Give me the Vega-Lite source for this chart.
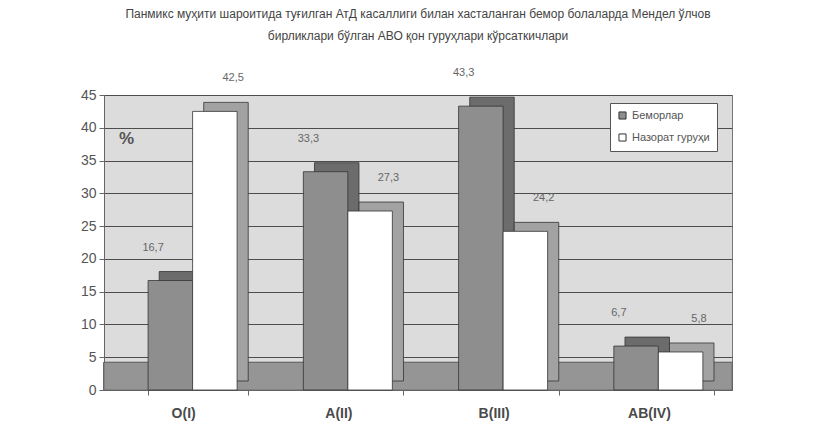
{
  "$schema": "https://vega.github.io/schema/vega-lite/v6.json",
  "width": 628,
  "height": 295,
  "autosize": {"type": "none"},
  "padding": {"left": 104, "top": 95, "right": 86, "bottom": 51},
  "background": "#ffffff",
  "title": {
    "text": [
      "Панмикс муҳити шароитида туғилган АтД касаллиги билан хасталанган бемор болаларда Мендел ўлчов",
      "бирликлари бўлган АВО қон гуруҳлари кўрсаткичлари"
    ],
    "fontSize": 12,
    "fontWeight": "normal",
    "font": "Liberation Sans Narrow, Liberation Sans, Arial",
    "color": "#444444",
    "lineHeight": 22,
    "anchor": "middle",
    "offset": 24
  },
  "data": {
    "values": [
      {"group": "O(I)", "series": "Беморлар", "value": 16.7},
      {"group": "O(I)", "series": "Назорат гуруҳи", "value": 42.5},
      {"group": "A(II)", "series": "Беморлар", "value": 33.3},
      {"group": "A(II)", "series": "Назорат гуруҳи", "value": 27.3},
      {"group": "B(III)", "series": "Беморлар", "value": 43.3},
      {"group": "B(III)", "series": "Назорат гуруҳи", "value": 24.2},
      {"group": "AB(IV)", "series": "Беморлар", "value": 6.7},
      {"group": "AB(IV)", "series": "Назорат гуруҳи", "value": 5.8}
    ]
  },
  "encoding": {
    "x": {
      "field": "group",
      "type": "nominal",
      "sort": ["O(I)", "A(II)", "B(III)", "AB(IV)"],
      "scale": {"paddingInner": 0.355, "paddingOuter": 0.2, "align": 0.71},
      "axis": {
        "title": null,
        "labelAngle": 0,
        "labelFontSize": 14,
        "labelFontWeight": "bold",
        "labelColor": "#4a4a4a",
        "labelPadding": 11,
        "labelOffset": -15,
        "tickOffset": -15,
        "tickBand": "extent",
        "tickColor": "#666666",
        "tickSize": 5,
        "domainColor": "#666666"
      }
    },
    "y": {
      "field": "value",
      "type": "quantitative",
      "scale": {"domain": [0, 45], "nice": false},
      "axis": {
        "values": [0, 5, 10, 15, 20, 25, 30, 35, 40, 45],
        "title": "%",
        "titleAngle": 0,
        "titleX": 22,
        "titleY": 52,
        "titleFontSize": 17,
        "titleFontWeight": "bold",
        "titleColor": "#555555",
        "labelFontSize": 14,
        "labelColor": "#555555",
        "labelPadding": 3,
        "tickColor": "#666666",
        "tickSize": 5,
        "domainColor": "#666666",
        "grid": true,
        "gridColor": "#4d4d4d",
        "gridWidth": 1
      }
    }
  },
  "layer": [
    {
      "mark": {"type": "rect", "fill": "#959595", "stroke": "#666666", "strokeWidth": 0.8},
      "encoding": {
        "x": null,
        "y": {"datum": 0},
        "y2": {"datum": 4.2}
      }
    },
    {
      "mark": {
        "type": "bar",
        "stroke": "#333333",
        "strokeWidth": 0.8,
        "yOffset": -9
      },
      "encoding": {
        "xOffset": {
          "field": "series",
          "type": "nominal",
          "sort": ["Беморлар", "Назорат гуруҳи"],
          "scale": {"paddingInner": 0, "paddingOuter": 0.125, "align": 1}
        },
        "fill": {
          "field": "series",
          "type": "nominal",
          "sort": ["Беморлар", "Назорат гуруҳи"],
          "scale": {"range": ["#6c6c6c", "#a2a2a2"]},
          "legend": null
        }
      }
    },
    {
      "mark": {"type": "bar", "stroke": "#333333", "strokeWidth": 0.8},
      "encoding": {
        "xOffset": {
          "field": "series",
          "type": "nominal",
          "sort": ["Беморлар", "Назорат гуруҳи"],
          "scale": {"paddingInner": 0, "paddingOuter": 0.125, "align": 0}
        },
        "fill": {
          "field": "series",
          "type": "nominal",
          "sort": ["Беморлар", "Назорат гуруҳи"],
          "scale": {"range": ["#8e8e8e", "#ffffff"]},
          "legend": {
            "title": null,
            "orient": "none",
            "legendX": 506,
            "legendY": 8,
            "fillColor": "#ffffff",
            "strokeColor": "#555555",
            "padding": 7,
            "symbolType": "square",
            "symbolSize": 50,
            "symbolStrokeColor": "#333333",
            "symbolStrokeWidth": 1,
            "labelFontSize": 11,
            "labelColor": "#555555",
            "rowPadding": 9
          }
        }
      }
    },
    {
      "mark": {
        "type": "text",
        "dy": -28,
        "dx": 5,
        "fontSize": 11,
        "color": "#666666",
        "baseline": "bottom"
      },
      "encoding": {
        "xOffset": {
          "field": "series",
          "type": "nominal",
          "sort": ["Беморлар", "Назорат гуруҳи"],
          "scale": {"paddingInner": 0, "paddingOuter": 0.125, "align": 0}
        },
        "text": {"field": "value", "type": "quantitative", "format": ".1f"}
      }
    }
  ],
  "resolve": {"scale": {"xOffset": "independent", "fill": "independent"}},
  "config": {
    "locale": {
      "number": {"decimal": ",", "thousands": " ", "grouping": [3], "currency": ["", ""]}
    },
    "font": "Liberation Sans, Arial",
    "view": {"fill": "#dcdcdc", "stroke": "#777777"}
  }
}
